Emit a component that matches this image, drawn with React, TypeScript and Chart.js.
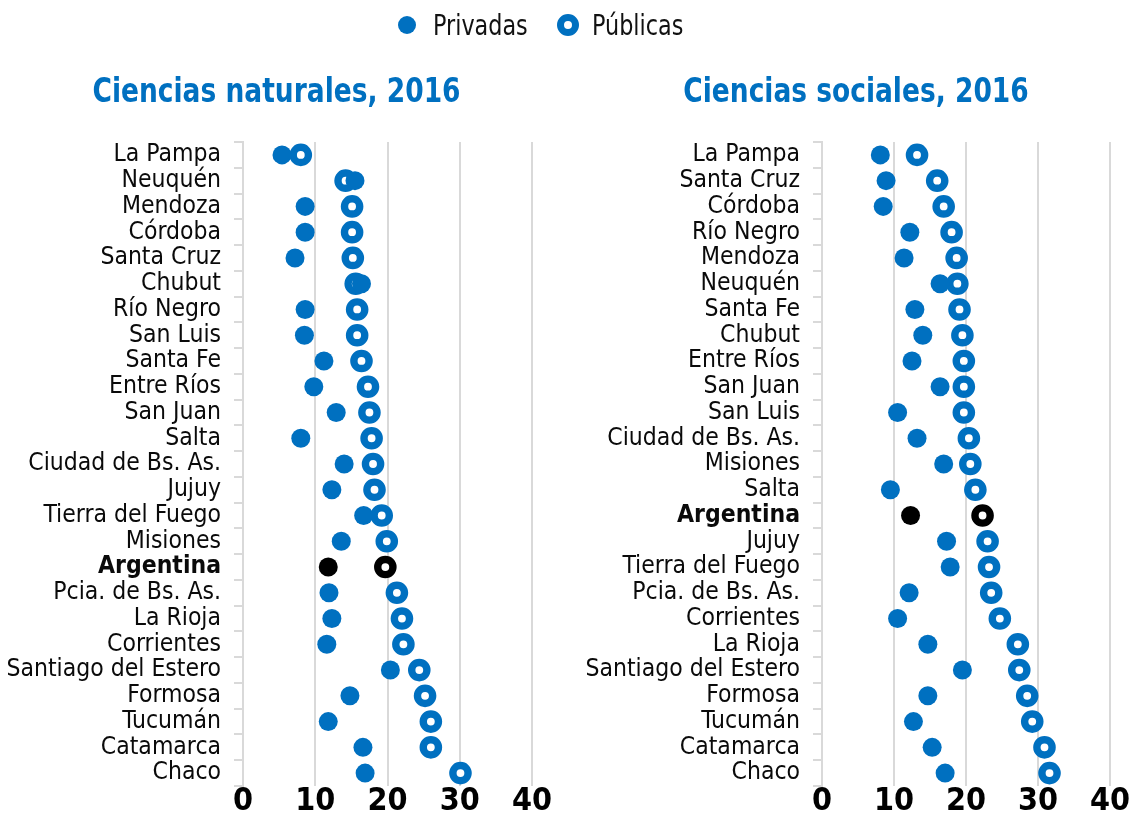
import React, { useEffect, useRef } from "react";
import { Chart, registerables } from "chart.js";
Chart.register(...registerables);

const BLUE = "#0070c0";
const FONT = "'Liberation Sans Narrow', 'DejaVu Sans Condensed', 'Arial Narrow', sans-serif";

const natLabels = [
  "La Pampa", "Neuquén", "Mendoza", "Córdoba", "Santa Cruz", "Chubut", "Río Negro", "San Luis",
  "Santa Fe", "Entre Ríos", "San Juan", "Salta", "Ciudad de Bs. As.", "Jujuy", "Tierra del Fuego",
  "Misiones", "Argentina", "Pcia. de Bs. As.", "La Rioja", "Corrientes", "Santiago del Estero",
  "Formosa", "Tucumán", "Catamarca", "Chaco",
];
const natPrivadas = [5.4, 15.5, 8.6, 8.6, 7.2, 16.4, 8.6, 8.5, 11.2, 9.8, 12.9, 8.0, 14.0, 12.3, 16.7, 13.6, 11.8, 11.9, 12.3, 11.6, 20.4, 14.8, 11.8, 16.6, 16.9];
const natPublicas = [8.0, 14.2, 15.1, 15.1, 15.2, 15.6, 15.8, 15.8, 16.4, 17.3, 17.5, 17.8, 18.0, 18.2, 19.2, 19.9, 19.7, 21.3, 22.0, 22.2, 24.4, 25.2, 26.0, 26.0, 30.1];

const socLabels = [
  "La Pampa", "Santa Cruz", "Córdoba", "Río Negro", "Mendoza", "Neuquén", "Santa Fe", "Chubut",
  "Entre Ríos", "San Juan", "San Luis", "Ciudad de Bs. As.", "Misiones", "Salta", "Argentina",
  "Jujuy", "Tierra del Fuego", "Pcia. de Bs. As.", "Corrientes", "La Rioja", "Santiago del Estero",
  "Formosa", "Tucumán", "Catamarca", "Chaco",
];
const socPrivadas = [8.1, 8.9, 8.5, 12.2, 11.4, 16.4, 12.9, 14.0, 12.5, 16.4, 10.5, 13.2, 16.9, 9.5, 12.3, 17.3, 17.8, 12.1, 10.5, 14.7, 19.5, 14.7, 12.7, 15.3, 17.1];
const socPublicas = [13.2, 16.0, 16.9, 18.0, 18.7, 18.8, 19.1, 19.5, 19.7, 19.7, 19.7, 20.4, 20.6, 21.3, 22.3, 23.0, 23.2, 23.5, 24.7, 27.2, 27.4, 28.5, 29.2, 30.9, 31.6];

const seriesNames = ["Privadas", "Públicas"];
const titles = ["Ciencias naturales, 2016", "Ciencias sociales, 2016"];
const xMin = 0;
const xMax = 40;
const xStep = 10;

type DotProps = {
  labels: string[];
  priv: number[];
  pub: number[];
  width: number;
  yWidth: number;
  padRight: number;
};

function DotChart({ labels, priv, pub, width, yWidth, padRight }: DotProps) {
  const ref = useRef<HTMLCanvasElement>(null);
  useEffect(() => {
    const isArg = (i: number) => labels[i] === "Argentina";
    const col = (ctx: any) => (isArg(ctx.dataIndex) ? "#000" : BLUE);
    const chart = new Chart(ref.current!, {
      type: "line",
      data: {
        labels,
        datasets: [
          {
            label: seriesNames[0],
            data: priv,
            showLine: false,
            pointRadius: 9.5,
            pointHoverRadius: 9.5,
            pointBorderWidth: 0,
            pointBackgroundColor: col,
            pointBorderColor: col,
          },
          {
            label: seriesNames[1],
            data: pub,
            showLine: false,
            pointRadius: 7.6,
            pointHoverRadius: 7.6,
            pointBorderWidth: 7.4,
            pointHoverBorderWidth: 7.4,
            pointBackgroundColor: "#fff",
            pointBorderColor: col,
          },
        ],
      },
      options: {
        indexAxis: "y",
        animation: false,
        responsive: false,
        events: [],
        layout: { padding: { top: 142, right: padRight, bottom: 0, left: 0 } },
        plugins: { legend: { display: false }, title: { display: false }, tooltip: { enabled: false } },
        scales: {
          x: {
            type: "linear",
            position: "bottom",
            min: xMin,
            max: xMax,
            ticks: {
              stepSize: xStep,
              color: "#000",
              padding: 0,
              font: { family: FONT, size: 32, weight: "bold", lineHeight: 1 },
            },
            grid: { color: "#d9d9d9", lineWidth: 2, drawTicks: false },
            border: { display: false },
            afterFit: (s: any) => {
              s.height = 32;
              s.paddingLeft = 0;
              s.paddingRight = 0;
            },
          },
          y: {
            type: "category",
            position: "left",
            offset: true,
            ticks: {
              autoSkip: false,
              padding: 13,
              color: "#0a0a0a",
              font: (ctx: any) => ({
                family: FONT,
                size: 24.5,
                weight: labels[ctx.index] === "Argentina" ? "bold" : "normal",
              }),
            },
            grid: {
              drawOnChartArea: false,
              drawTicks: true,
              tickLength: 9,
              color: "#d9d9d9",
              lineWidth: 2,
              offset: true,
            },
            border: { display: true, color: "#d9d9d9", width: 2 },
            afterFit: (s: any) => {
              s.width = yWidth;
              s.paddingTop = 0;
              s.paddingBottom = 0;
            },
          },
        },
      } as any,
    });
    return () => chart.destroy();
  }, []);
  return <canvas ref={ref} width={width} height={818} style={{ display: "block" }} />;
}

export default function App() {
  const titleStyle: React.CSSProperties = {
    position: "absolute",
    top: 70,
    height: 36,
    lineHeight: "36px",
    textAlign: "center",
    font: `bold 34px ${FONT}`,
    color: BLUE,
    whiteSpace: "nowrap",
    transform: "scaleX(0.866)",
    transformOrigin: "center",
  };
  const legendText: React.CSSProperties = {
    position: "absolute",
    top: 10,
    font: `29px ${FONT}`,
    lineHeight: "30px",
    color: "#111",
    whiteSpace: "nowrap",
    transform: "scaleX(0.855)",
    transformOrigin: "left center",
  };
  return (
    <div style={{ position: "absolute", left: 0, top: 0, width: 1131, height: 818, background: "#fff", overflow: "hidden" }}>
      <div style={{ position: "absolute", left: 0, top: 0 }}>
        <DotChart labels={natLabels} priv={natPrivadas} pub={natPublicas} width={565} yWidth={243} padRight={33} />
      </div>
      <div style={{ position: "absolute", left: 565, top: 0 }}>
        <DotChart labels={socLabels} priv={socPrivadas} pub={socPublicas} width={566} yWidth={257} padRight={21} />
      </div>
      <div style={{ ...titleStyle, left: 0, width: 553 }}>{titles[0]}</div>
      <div style={{ ...titleStyle, left: 573, width: 566 }}>{titles[1]}</div>
      <span style={{ position: "absolute", left: 398, top: 16, width: 18, height: 18, borderRadius: "50%", background: BLUE }} />
      <span style={{ ...legendText, left: 433 }}>{seriesNames[0]}</span>
      <span style={{ position: "absolute", left: 557, top: 14, width: 22, height: 22, boxSizing: "border-box", border: `7px solid ${BLUE}`, borderRadius: "50%", background: "#fff" }} />
      <span style={{ ...legendText, left: 592 }}>{seriesNames[1]}</span>
    </div>
  );
}
